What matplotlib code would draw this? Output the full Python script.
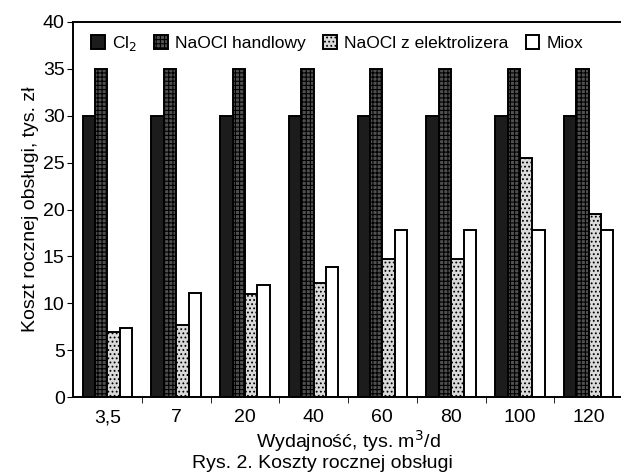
import numpy as np
from matplotlib import pyplot as plt

plt.rcParams["font.family"] = ["Liberation Sans", "DejaVu Sans"]
plt.rcParams["hatch.color"] = "#9a9a9a"
plt.rcParams["hatch.linewidth"] = 0.8

# data
categories = ["3,5", "7", "20", "40", "60", "80", "100", "120"]
cl2 = [30, 30, 30, 30, 30, 30, 30, 30]
naocl_handlowy = [35, 35, 35, 35, 35, 35, 35, 35]
naocl_elektrolizer = [6.9, 7.7, 11.0, 12.2, 14.7, 14.7, 25.5, 19.5]
miox = [7.4, 11.05, 11.9, 13.9, 17.8, 17.8, 17.8, 17.8]

series = [cl2, naocl_handlowy, naocl_elektrolizer, miox]
labels = ["Cl$_2$", "NaOCl handlowy", "NaOCl z elektrolizera", "Miox"]
colors = ["#1c1c1c", "#505050", "#dadada", "white"]
hatches = [None, "++++", "....", None]

fig = plt.figure(figsize=(6.21, 4.76), dpi=100)
ax = fig.add_axes([73 / 621, 1 - 397 / 476, 550 / 621, 375 / 476])

x = np.arange(len(categories))
w = 0.18
for i, (vals, lab, c, h) in enumerate(zip(series, labels, colors, hatches)):
    ax.bar(x + (i - 1.5) * w, vals, w, color=c, edgecolor="black",
           linewidth=1.4, hatch=h, label=lab)

ax.set_xlim(-0.5, len(categories) - 0.5)
ax.set_ylim(0, 40)
ax.set_yticks(range(0, 41, 5))
ax.set_xticks(x)
ax.set_xticklabels(categories)
ax.set_xticks(np.arange(0.5, len(categories) - 0.5, 1), minor=True)
ax.tick_params(axis="x", which="major", length=0, labelsize=14, pad=9)
ax.tick_params(axis="x", which="minor", length=4, direction="out")
ax.tick_params(axis="y", length=4, labelsize=14, pad=2)

for s in ["left", "bottom", "top"]:
    ax.spines[s].set_linewidth(1.4)
ax.spines["right"].set_visible(False)

ax.set_ylabel("Koszt rocznej obsługi, tys. zł", fontsize=14, labelpad=3)
ax.set_xlabel("Wydajność, tys. m$^3$/d", fontsize=14, labelpad=1)
fig.text(322 / 621, 1 - 463 / 476, "Rys. 2. Koszty rocznej obsługi",
         ha="center", va="center", fontsize=14)

ax.legend(loc="upper center", ncol=4, frameon=False, fontsize=12.5,
          handlelength=0.8, handleheight=0.8, handletextpad=0.4,
          columnspacing=1.0, borderaxespad=0.3, bbox_to_anchor=(0.48, 1.0))

plt.savefig("out.png", dpi=100)
